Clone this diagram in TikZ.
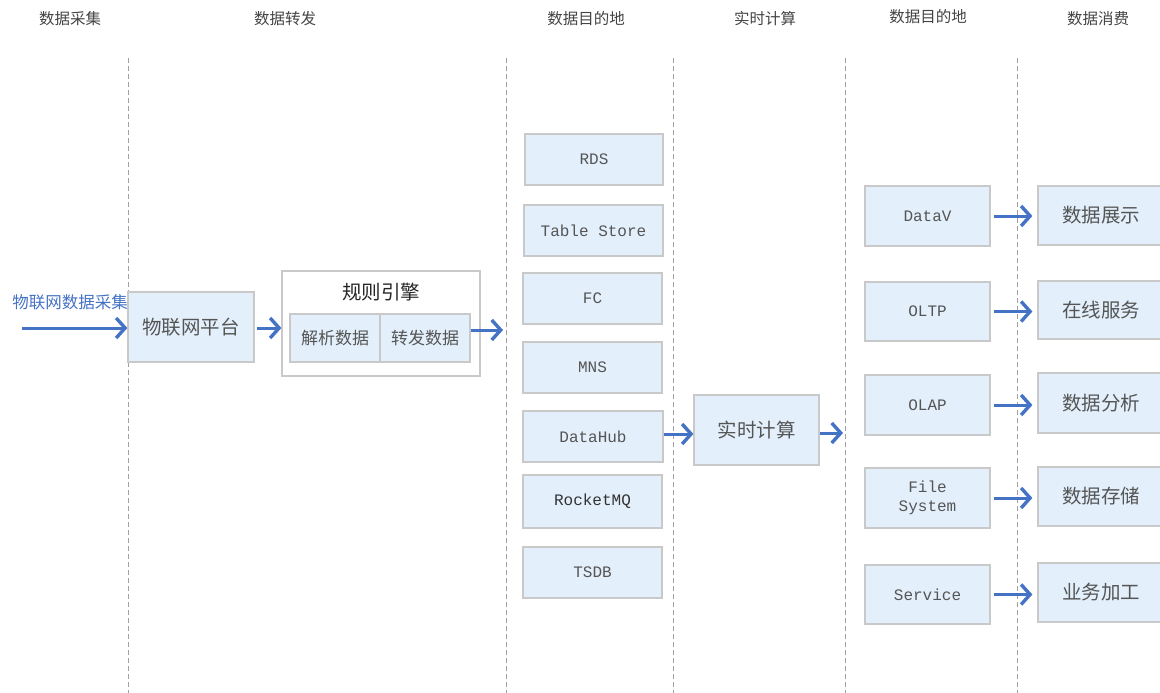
\documentclass[tikz,border=0pt]{standalone}
\usepackage{fontspec}
\setmainfont{Liberation Mono}
\newfontfamily\cjk{Noto Sans CJK SC}
\usetikzlibrary{arrows.meta}
\definecolor{boxfill}{HTML}{E3F0FC}
\definecolor{boxline}{HTML}{C9C9C9}
\definecolor{txt}{HTML}{555555}
\definecolor{arr}{HTML}{4472C4}
\definecolor{dashc}{HTML}{A0A0A0}
\begin{document}
\begin{tikzpicture}[x=1pt,y=-1pt,
  box/.style={draw=boxline,fill=boxfill,line width=1.2pt,inner sep=0pt,text=txt,align=center},
  mono/.style={box,font=\fontsize{16}{19}\selectfont},
  cn/.style={box,font=\cjk\fontsize{19.5}{22}\selectfont},
  head/.style={text=txt!80!black,font=\cjk\fontsize{15.5}{18}\selectfont},
  flow/.style={draw=arr,line width=3pt,-{Straight Barb[length=9pt,width=20pt,line width=3.4pt]}},
  sep/.style={draw=dashc,line width=0.8pt,dash pattern=on 5pt off 3pt}]
\useasboundingbox (0,0) rectangle (1160,693);
% separators
\foreach \x in {128,506,673,845,1017} \draw[sep] (\x,58) -- (\x,693);
% headers
\node[head] (h1) at (70,19) {数据采集};
\node[head] (h2) at (285,19) {数据转发};
\node[head] (h3) at (586,19) {数据目的地};
\node[head] (h4) at (765,19) {实时计算};
\node[head] (h5) at (928,17) {数据目的地};
\node[head] (h6) at (1098,19) {数据消费};
% ingestion
\node[text=arr,font=\cjk\fontsize{16.5}{18}\selectfont,anchor=east,inner sep=0pt] (inl) at (128,302) {物联网数据采集};
\coordinate (in) at (22,328);
\node[cn,minimum width=126pt,minimum height=70pt] (plat) at (191,327) {物联网平台};
% rule engine
\node[draw=boxline,fill=white,line width=1.2pt,minimum width=198pt,minimum height=105pt,inner sep=0pt] (rule) at (381,323.5) {};
\node[text=black!85,font=\cjk\fontsize{19.5}{22}\selectfont,inner sep=0pt] (rulet) at (381,292) {规则引擎};
\node[box,font=\cjk\fontsize{17}{20}\selectfont,minimum width=90pt,minimum height=48pt] (parse) at (335,338) {解析数据};
\node[box,font=\cjk\fontsize{17}{20}\selectfont,minimum width=90pt,minimum height=48pt] (fwd) at (425,338) {转发数据};
\coordinate (fwdend) at (503,330);
% destinations
\node[mono,minimum width=138pt,minimum height=51pt] (rds) at (594,159.5) {RDS};
\node[mono,minimum width=139pt,minimum height=51pt] (ts) at (593.5,230.5) {Table Store};
\node[mono,minimum width=139pt,minimum height=51pt] (fc) at (592.5,298.5) {FC};
\node[mono,minimum width=139pt,minimum height=51pt] (mns) at (592.5,367.5) {MNS};
\node[mono,minimum width=140pt,minimum height=51pt] (dh) at (593,436.5) {DataHub};
\node[mono,minimum width=139pt,minimum height=53pt,text=black!80] (rmq) at (592.5,501.5) {RocketMQ};
\node[mono,minimum width=139pt,minimum height=51pt] (tsdb) at (592.5,572.5) {TSDB};
% realtime
\node[cn,minimum width=125pt,minimum height=70pt] (rt) at (756.5,430) {实时计算};
\coordinate (dhy) at (0,434);
\coordinate (rtend) at (843,433);
% second destinations
\node[mono,minimum width=125pt,minimum height=60pt] (datav) at (927.5,216) {DataV};
\node[mono,minimum width=125pt,minimum height=59pt] (oltp) at (927.5,311.5) {OLTP};
\node[mono,minimum width=125pt,minimum height=60pt] (olap) at (927.5,405) {OLAP};
\node[mono,minimum width=125pt,minimum height=60pt] (fs) at (927.5,498) {File\\System};
\node[mono,minimum width=125pt,minimum height=59pt] (svc) at (927.5,594.5) {Service};
% consumers
\node[cn,minimum width=126pt,minimum height=59pt] (c1) at (1101,215.5) {数据展示};
\node[cn,minimum width=126pt,minimum height=58pt] (c2) at (1101,310) {在线服务};
\node[cn,minimum width=126pt,minimum height=60pt] (c3) at (1101,403) {数据分析};
\node[cn,minimum width=126pt,minimum height=59pt] (c4) at (1101,496.5) {数据存储};
\node[cn,minimum width=126pt,minimum height=59pt] (c5) at (1101,592.5) {业务加工};
% arrows
\draw[flow] (in) -- (in -| plat.west);
\draw[flow] ([xshift=2pt]plat.east |- in) -- (in -| rule.west);
\draw[flow] (fwd.east |- fwdend) -- (fwdend);
\draw[flow] (dh.east |- dhy) -- (rt.west |- dhy);
\draw[flow] (rt.east |- rtend) -- (rtend);
\draw[flow] ([xshift=3pt]datav.east) -- ([xshift=-5pt]datav.east -| c1.west);
\draw[flow] ([xshift=3pt]oltp.east) -- ([xshift=-5pt]oltp.east -| c2.west);
\draw[flow] ([xshift=3pt]olap.east) -- ([xshift=-5pt]olap.east -| c3.west);
\draw[flow] ([xshift=3pt]fs.east) -- ([xshift=-5pt]fs.east -| c4.west);
\draw[flow] ([xshift=3pt]svc.east) -- ([xshift=-5pt]svc.east -| c5.west);
\end{tikzpicture}
\end{document}
